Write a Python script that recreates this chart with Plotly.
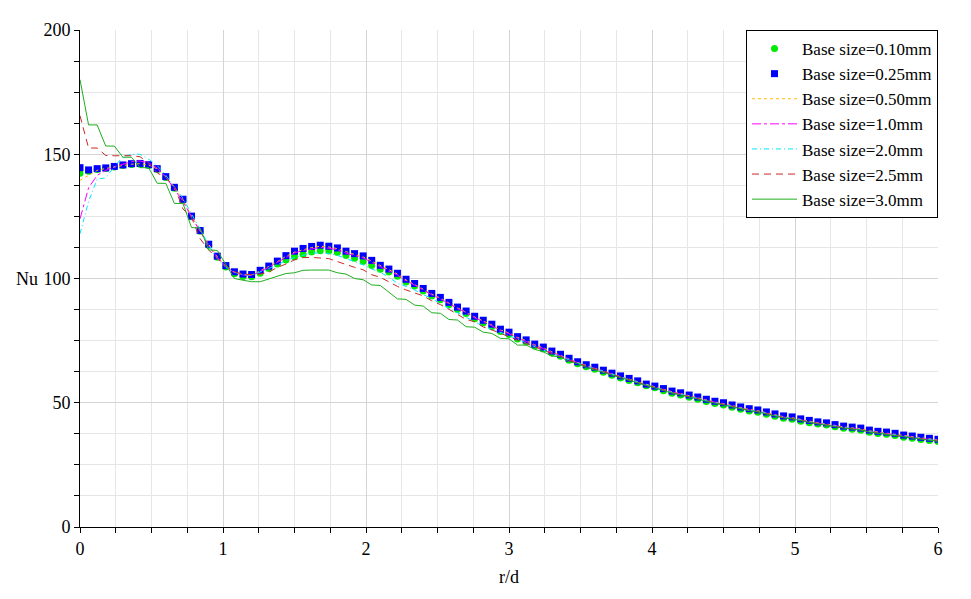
import plotly.graph_objects as go

# r/d sample positions (every 0.06 from 0 to 6)
r_d = [round(i * 0.06, 2) for i in range(101)]

nu_010 = [142.4, 143.2, 143.9, 144.3, 144.9, 145.5, 145.9, 146.0, 145.5, 143.9,
          140.6, 136.3, 131.5, 124.8, 119.0, 113.4, 108.6, 104.6, 101.9, 100.8,
          100.7, 102.1, 104.0, 105.8, 107.4, 108.8, 109.8, 110.7, 111.2, 111.1,
          110.5, 109.3, 108.1, 106.8, 105.2, 103.7, 102.6, 100.9, 98.6, 97.0,
          95.0, 93.0, 91.4, 89.4, 87.5, 85.9, 83.8, 82.2, 80.6, 78.7,
          77.5, 75.7, 74.4, 72.8, 71.6, 70.0, 68.7, 67.1, 65.7, 64.5,
          63.5, 62.3, 61.1, 60.0, 59.0, 58.0, 56.8, 56.0, 54.8, 53.8,
          53.1, 52.2, 51.4, 50.5, 49.7, 49.1, 48.2, 47.4, 46.7, 46.2,
          45.4, 44.6, 43.8, 43.4, 42.6, 42.0, 41.4, 41.0, 40.3, 39.7,
          39.3, 38.9, 38.1, 37.6, 37.3, 36.8, 36.1, 35.7, 35.2, 34.8, 34.4]

nu_025 = [144.6, 143.7, 144.2, 144.5, 145.1, 145.7, 146.2, 146.3, 145.8, 144.2,
          141.0, 136.7, 131.9, 125.1, 119.3, 113.8, 109.0, 105.2, 102.7, 101.8,
          101.6, 103.3, 105.0, 107.0, 109.2, 111.0, 112.1, 112.9, 113.4, 113.0,
          112.3, 111.0, 110.0, 109.1, 107.3, 105.3, 103.8, 102.1, 99.7, 98.0,
          96.0, 94.0, 92.4, 90.4, 88.5, 86.9, 84.8, 83.2, 81.6, 79.6,
          78.4, 76.6, 75.3, 73.6, 72.4, 70.8, 69.5, 67.9, 66.5, 65.3,
          64.3, 63.1, 61.9, 60.8, 59.8, 58.8, 57.5, 56.7, 55.7, 54.7,
          54.0, 53.1, 52.3, 51.4, 50.6, 50.0, 49.1, 48.3, 47.6, 47.1,
          46.3, 45.5, 44.7, 44.3, 43.5, 42.9, 42.3, 41.9, 41.2, 40.6,
          40.2, 39.8, 39.0, 38.5, 38.2, 37.7, 37.0, 36.6, 36.1, 35.7, 35.3]

nu_050 = [139.5, 141.5, 143.5, 144.3, 144.9, 145.5, 146.0, 146.2, 145.7, 144.1,
          140.9, 136.6, 131.8, 125.0, 119.2, 113.7, 108.9, 105.0, 102.5, 101.6,
          101.4, 103.0, 104.8, 106.8, 108.9, 110.6, 111.7, 112.5, 113.0, 112.7,
          112.0, 110.7, 109.7, 108.7, 107.0, 105.0, 103.5, 101.8, 99.4, 97.7,
          95.7, 93.7, 92.1, 90.1, 88.2, 86.6, 84.5, 82.9, 81.3, 79.3,
          78.1, 76.3, 75.0, 73.3, 72.1, 70.5, 69.2, 67.6, 66.2, 65.0,
          64.0, 62.8, 61.6, 60.5, 59.5, 58.5, 57.2, 56.4, 55.4, 54.4,
          53.7, 52.8, 52.0, 51.1, 50.3, 49.7, 48.8, 48.0, 47.3, 46.8,
          46.0, 45.2, 44.4, 44.0, 43.2, 42.6, 42.0, 41.6, 40.9, 40.3,
          39.9, 39.5, 38.7, 38.2, 37.9, 37.4, 36.7, 36.3, 35.8, 35.4, 35.0]

nu_10 = [124.0, 136.5, 141.5, 143.5, 145.0, 146.0, 147.0, 147.3, 146.5, 144.5,
         140.8, 136.0, 131.0, 124.8, 118.8, 113.0, 108.5, 104.8, 102.3, 101.4,
         101.2, 102.7, 104.5, 106.5, 108.5, 110.3, 111.3, 112.0, 112.5, 112.2,
         111.5, 110.2, 109.2, 108.3, 106.5, 104.6, 103.0, 101.4, 99.0, 97.4,
         95.4, 93.4, 91.8, 89.8, 87.9, 86.3, 84.2, 82.6, 81.0, 79.0,
         77.8, 76.0, 74.7, 73.0, 71.8, 70.2, 68.9, 67.4, 66.0, 64.8,
         63.8, 62.6, 61.4, 60.3, 59.3, 58.3, 57.0, 56.2, 55.2, 54.2,
         53.5, 52.6, 51.8, 50.9, 50.1, 49.5, 48.6, 47.8, 47.1, 46.6,
         45.8, 45.0, 44.2, 43.8, 43.0, 42.4, 41.8, 41.4, 40.7, 40.1,
         39.7, 39.3, 38.5, 38.0, 37.7, 37.2, 36.5, 36.1, 35.6, 35.2, 34.8]

nu_20 = [118.0, 131.0, 140.0, 140.5, 145.0, 149.0, 150.0, 150.0, 148.0, 145.5,
         141.5, 136.8, 132.3, 126.0, 119.5, 113.5, 108.0, 104.5, 102.5, 101.5,
         101.3, 102.5, 104.0, 105.5, 107.2, 108.5, 109.5, 110.2, 110.3, 110.1,
         109.3, 108.0, 106.8, 105.5, 103.8, 102.5, 100.5, 98.1, 96.8, 95.4,
         93.5, 92.0, 89.8, 88.0, 86.3, 84.5, 82.5, 80.8, 79.6, 78.4,
         77.2, 75.7, 74.0, 72.5, 71.3, 69.8, 68.5, 67.2, 66.0, 64.8,
         63.7, 62.6, 61.4, 60.3, 59.3, 58.3, 57.2, 56.3, 55.1, 54.1,
         53.4, 52.5, 51.7, 50.8, 50.0, 49.4, 48.5, 47.7, 47.0, 46.5,
         45.7, 44.9, 44.1, 43.7, 42.9, 42.3, 41.7, 41.3, 40.6, 40.0,
         39.6, 39.2, 38.4, 37.9, 37.6, 37.1, 36.4, 36.0, 35.5, 35.1, 34.7]

nu_25 = [165.5, 152.5, 152.5, 149.5, 149.4, 149.4, 149.4, 149.0, 146.5, 142.5,
         140.5, 137.0, 128.0, 124.5, 116.0, 111.5, 108.0, 105.0, 102.7, 101.8,
         101.5, 101.8, 102.5, 104.5, 105.8, 107.5, 108.4, 108.5, 108.4, 108.0,
         106.8, 105.5, 104.5, 103.5, 101.5, 100.5, 98.7, 96.8, 95.4, 94.2,
         93.0, 91.0, 89.5, 87.6, 85.5, 83.5, 82.6, 80.5, 79.3, 77.9,
         76.8, 75.3, 73.8, 72.5, 71.2, 69.8, 68.5, 67.0, 65.8, 64.7,
         63.6, 62.4, 61.3, 60.2, 59.2, 58.2, 57.1, 56.2, 55.0, 54.0,
         53.3, 52.4, 51.6, 50.7, 49.9, 49.3, 48.4, 47.6, 46.9, 46.4,
         45.6, 44.8, 44.0, 43.6, 42.8, 42.2, 41.6, 41.2, 40.5, 39.9,
         39.5, 39.1, 38.3, 37.8, 37.5, 37.0, 36.3, 35.9, 35.4, 35.0, 34.6]

nu_30 = [180.0, 161.8, 161.8, 153.3, 153.3, 148.8, 148.8, 144.6, 144.6, 138.3,
         138.3, 130.2, 130.2, 120.5, 120.3, 111.5, 111.3, 105.5, 100.0, 99.3,
         98.7, 98.7, 99.8, 100.8, 102.0, 102.3, 103.3, 103.4, 103.4, 103.4,
         102.3, 101.8, 100.0, 99.5, 97.4, 97.2, 94.5, 91.8, 91.6, 89.3,
         88.9, 86.2, 86.0, 83.5, 83.3, 80.6, 80.4, 78.4, 77.9, 75.9,
         75.7, 73.2, 73.2, 71.5, 70.5, 68.8, 68.5, 66.5, 65.8, 64.2,
         63.2, 62.2, 61.0, 60.2, 59.2, 58.0, 57.2, 55.9, 54.9, 53.9,
         53.2, 52.3, 51.5, 50.6, 49.8, 49.2, 48.3, 47.5, 46.8, 46.3,
         45.5, 44.7, 43.9, 43.5, 42.7, 42.1, 41.5, 41.1, 40.4, 39.8,
         39.4, 39.0, 38.2, 37.7, 37.4, 36.9, 36.2, 35.8, 35.3, 34.9, 34.5]

SERIF = "Liberation Serif"

fig = go.Figure()

fig.add_trace(go.Scatter(x=r_d, y=nu_010, mode="markers", name="Base size=0.10mm",
                         marker=dict(symbol="circle", size=7, color="rgb(0,235,0)")))
fig.add_trace(go.Scatter(x=r_d, y=nu_025, mode="markers", name="Base size=0.25mm",
                         marker=dict(symbol="square", size=7, color="rgb(0,0,255)")))

line_styles = [
    (nu_050, "Base size=0.50mm", "rgb(255,190,0)", "dot"),
    (nu_10, "Base size=1.0mm", "rgb(255,0,255)", "dashdot"),
    (nu_20, "Base size=2.0mm", "rgb(0,230,255)", "5px,3px,1px,3px"),
    (nu_25, "Base size=2.5mm", "rgb(200,40,40)", "7px,5px"),
    (nu_30, "Base size=3.0mm", "rgb(30,175,30)", "solid"),
]
for vals, name, col, dash in line_styles:
    fig.add_trace(go.Scatter(x=r_d, y=vals, mode="lines", name=name,
                             line=dict(color=col, width=1, dash=dash)))

axis_common = dict(
    showline=True, linecolor="black", linewidth=1,
    ticks="outside", ticklen=5, tickcolor="black",
    showgrid=True, gridcolor="#d4d4d4", gridwidth=1,
    zeroline=False, mirror=False,
    tickfont=dict(family=SERIF, size=18, color="black"),
)

fig.update_xaxes(range=[0, 6], dtick=1, tick0=0,
                 minor=dict(dtick=0.25, ticks="outside", ticklen=5, tickcolor="black",
                            showgrid=True, gridcolor="#e6e6e6"),
                 **axis_common)
fig.update_yaxes(range=[0, 200], dtick=50, tick0=0,
                 minor=dict(dtick=12.5, ticks="outside", ticklen=5, tickcolor="black",
                            showgrid=True, gridcolor="#e6e6e6"),
                 **axis_common)

fig.add_annotation(text="Nu", xref="paper", yref="paper", x=-0.062, y=0.5,
                   showarrow=False, xanchor="center", yanchor="middle",
                   font=dict(family=SERIF, size=18, color="black"))
fig.add_annotation(text="r/d", xref="paper", yref="paper", x=0.5, y=-0.1,
                   showarrow=False, xanchor="center", yanchor="middle",
                   font=dict(family=SERIF, size=18, color="black"))

fig.update_layout(
    width=971, height=599,
    margin=dict(l=72, r=41, t=22, b=80),
    plot_bgcolor="white", paper_bgcolor="white",
    font=dict(family=SERIF, size=18, color="black"),
    legend=dict(x=1, y=1, xanchor="right", yanchor="top",
                bgcolor="white", bordercolor="black", borderwidth=1,
                font=dict(family=SERIF, size=17, color="black"),
                tracegroupgap=0, itemwidth=45),
    showlegend=True,
)

fig.write_html("out.html")
